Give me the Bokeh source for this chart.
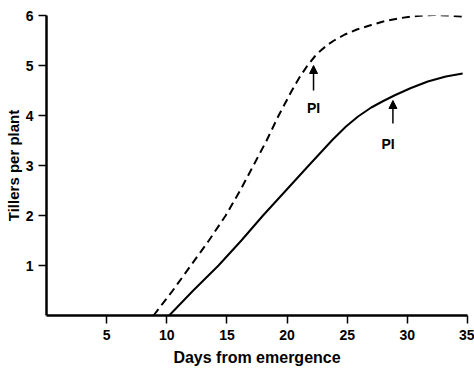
from bokeh.plotting import figure
from bokeh.models import Range1d, FixedTicker, Arrow, NormalHead, ColumnDataSource
from bokeh.core.properties import value
from bokeh.embed import file_html
from bokeh.resources import INLINE

# Data
dashed_days = [8.9, 10.5, 12.0, 13.5, 14.9, 16.1, 17.2, 18.3, 19.3, 20.4, 21.0, 21.7, 22.3, 22.8, 23.4,
               23.9, 24.8, 25.8, 27.0, 28.0, 29.2, 30.3, 31.3, 32.2, 33.4, 34.6]
dashed_tillers = [0.0, 0.5, 1.0, 1.5, 2.0, 2.5, 3.0, 3.5, 4.0, 4.5, 4.75, 5.0, 5.18, 5.3, 5.42,
                  5.5, 5.62, 5.72, 5.81, 5.88, 5.94, 5.98, 6.0, 6.01, 6.0, 5.98]

solid_days = [10.2, 12.2, 14.3, 16.2, 18.0, 19.9, 21.8, 23.8, 24.9, 25.9, 27.0, 28.0, 29.0, 30.3,
              31.7, 33.2, 34.6]
solid_tillers = [0.0, 0.5, 1.0, 1.5, 2.0, 2.5, 3.0, 3.52, 3.78, 3.98, 4.16, 4.29, 4.41, 4.55,
                 4.68, 4.78, 4.84]

pi_days = [22.2, 28.8]
pi_tip = [5.0, 4.3]
pi_tail = [4.5, 3.84]
pi_label_days = [22.2, 28.4]
pi_label_y = [4.16, 3.44]
pi_labels = ["PI", "PI"]

x_ticks = [5, 10, 15, 20, 25, 30, 35]
y_ticks = [1, 2, 3, 4, 5, 6]

FONT = "Liberation Sans"

p = figure(width=474, height=371, output_backend="svg", toolbar_location=None,
           x_range=Range1d(0, 35), y_range=Range1d(0, 6),
           min_border_left=46, min_border_right=7, min_border_top=15, min_border_bottom=56)
p.outline_line_color = None
p.xgrid.visible = False
p.ygrid.visible = False
p.background_fill_color = "white"
p.border_fill_color = "white"

for ax in (p.xaxis[0], p.yaxis[0]):
    ax.axis_line_width = 2.5
    ax.axis_line_color = "black"
    ax.major_tick_line_width = 1.5
    ax.major_tick_line_color = "black"
    ax.major_tick_out = 8
    ax.major_tick_in = 0
    ax.minor_tick_line_color = None
    ax.major_label_text_font = FONT
    ax.major_label_text_font_size = "14px"
    ax.major_label_text_font_style = "bold"
    ax.major_label_text_color = "black"
    ax.axis_label_text_font = FONT
    ax.axis_label_text_font_size = "15px"
    ax.axis_label_text_font_style = "bold"
    ax.axis_label_text_color = "black"

p.xaxis.ticker = FixedTicker(ticks=x_ticks)
p.yaxis.ticker = FixedTicker(ticks=y_ticks)
p.xaxis.axis_label = "Days from emergence"
p.yaxis.axis_label = "Tillers per plant"
p.xaxis.axis_label_text_font_size = "16px"
p.xaxis.major_label_standoff = 6
p.yaxis.major_label_standoff = 5
p.xaxis.axis_label_standoff = 6
p.yaxis.axis_label_standoff = 1

p.line(dashed_days, dashed_tillers, line_color="black", line_width=2, line_dash="8 5")
p.line(solid_days, solid_tillers, line_color="black", line_width=2)

src = ColumnDataSource(dict(x=pi_days, tip=pi_tip, tail=pi_tail))
p.add_layout(Arrow(end=NormalHead(size=8, fill_color="black", line_color="black"),
                   x_start="x", y_start="tail", x_end="x", y_end="tip",
                   line_width=1.5, line_color="black", source=src))

p.text(pi_label_days, pi_label_y, text=pi_labels, text_font=value(FONT),
       text_font_size="14px", text_font_style="bold", text_align="center",
       text_baseline="middle", text_color="black")

open("out.html", "w").write(file_html(p, INLINE))
